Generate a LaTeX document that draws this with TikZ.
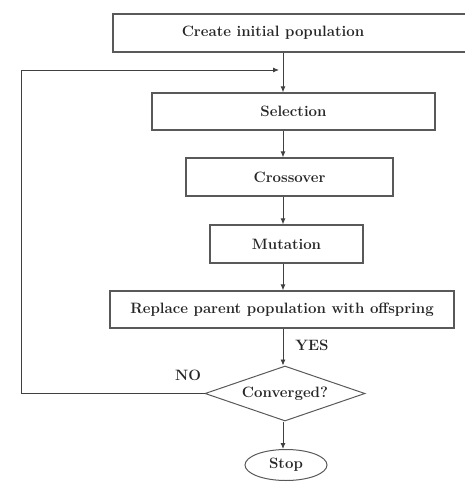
\documentclass[tikz,border=0pt]{standalone}
\usepackage{tikz}
\usetikzlibrary{shapes.geometric,arrows.meta}

\tikzset{
  box/.style={draw=black!65,line width=1.2pt,fill=white,inner sep=0pt},
  decision/.style={diamond,draw=black!65,line width=1pt,aspect=2.9,inner sep=0pt,
    minimum width=160pt,minimum height=55pt},
  terminal/.style={ellipse,draw=black!65,line width=1pt,inner sep=0pt,
    minimum width=82pt,minimum height=31pt},
  arr/.style={draw=black!75,line width=0.9pt,-{Latex[length=6pt,width=5pt]}},
  lbl/.style={font=\fontsize{15}{17}\selectfont\bfseries,text=black!85}
}

\begin{document}
\begin{tikzpicture}[x=1pt,y=-1pt,every node/.append style={lbl}]
\useasboundingbox (0,0) rectangle (465,482);

% boxes of the loop
\node[box,minimum width=354pt,minimum height=38pt,
  label={[lbl,xshift=-17pt]center:Create initial population}] (create) at (290,33) {};
\node[box,minimum width=283pt,minimum height=37pt] (sel) at (293.5,111.5) {Selection};
\node[box,minimum width=207pt,minimum height=38pt] (cross) at (289.5,177) {Crossover};
\node[box,minimum width=153pt,minimum height=38pt] (mut) at (286.5,244) {Mutation};
\node[box,minimum width=344pt,minimum height=37pt] (repl) at (282,309.5) {Replace parent population with offspring};
\node[decision] (conv) at (285,393.5) {Converged?};
\node[terminal] (stop) at (286,465) {Stop};

\coordinate (axis) at (283,0);
\coordinate (back) at (21,70);
\coordinate (loop) at (279,70);

\draw[arr] (create.south -| axis) -- (sel.north -| axis);
\draw[arr] (sel.south -| axis) -- (cross.north -| axis);
\draw[arr] (cross.south -| axis) -- (mut.north -| axis);
\draw[arr] (mut.south -| axis) -- (repl.north -| axis);
\draw[arr] (repl.south -| axis) -- (conv.north -| axis);
\draw[arr] (conv.south -| axis) -- (stop.north -| axis);
\draw[arr] (conv.west) -| (back) -- (loop);

\node (yes) at (312,345) {YES};
\node (no) at (188,375) {NO};
\end{tikzpicture}
\end{document}
